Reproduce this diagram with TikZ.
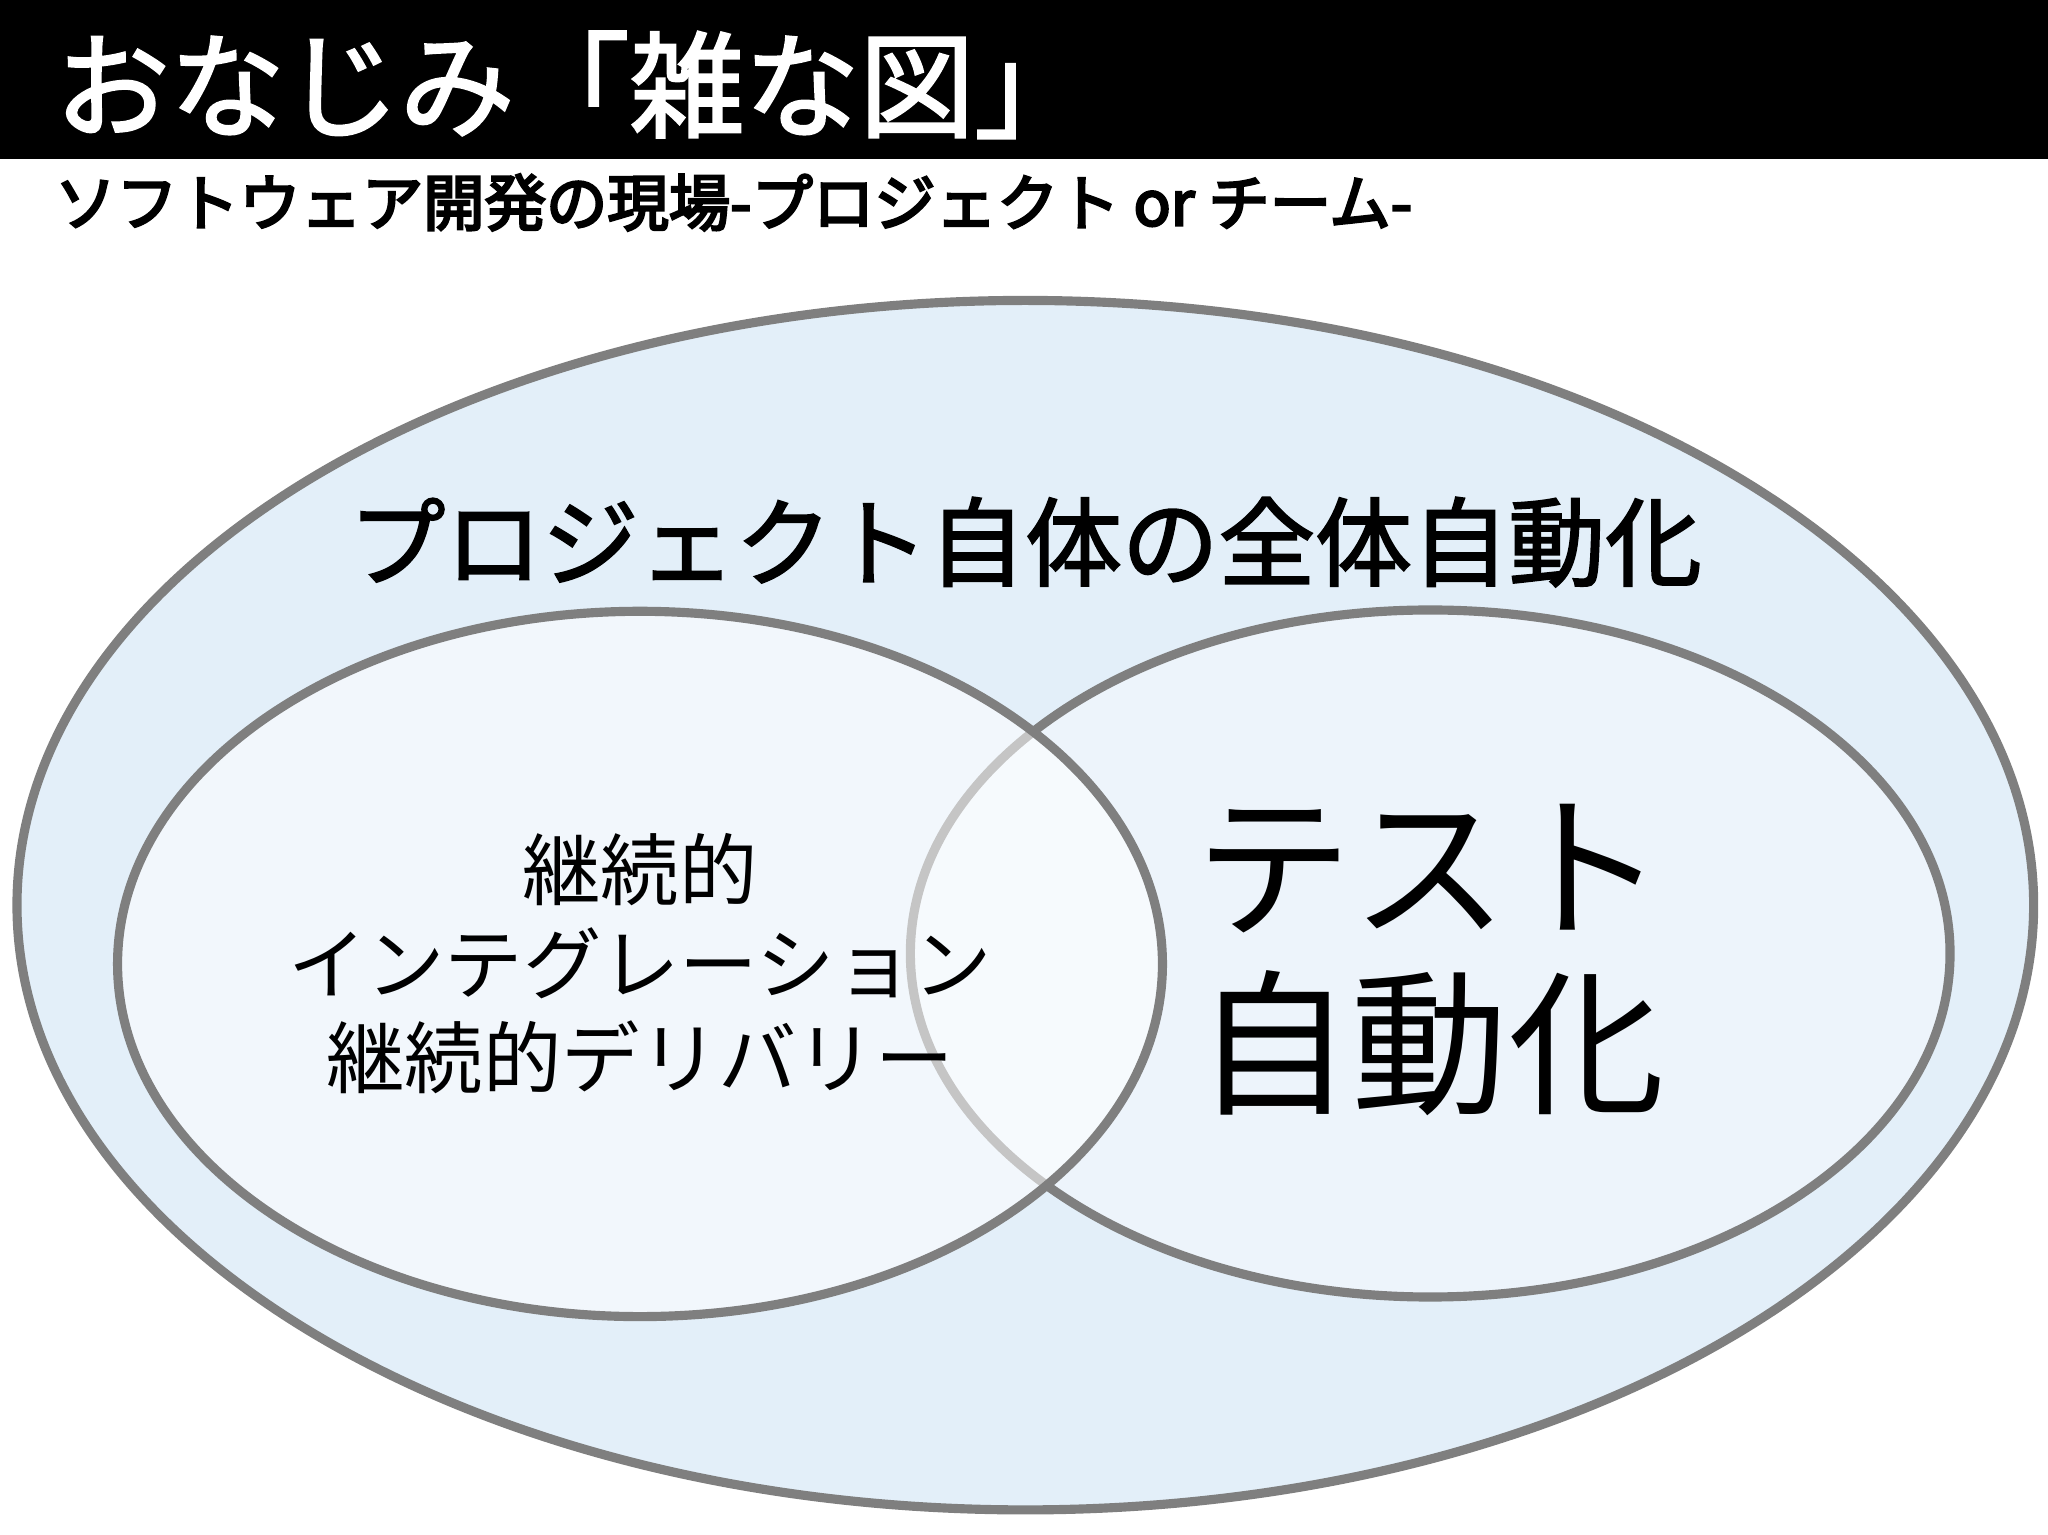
\documentclass[tikz,border=0pt]{standalone}
\usepackage{fontspec}
\newfontfamily\jp{Noto Sans CJK JP}
\newfontfamily\jpb{Noto Sans CJK JP}[FakeBold=2]
\newfontfamily\jpbb{Noto Sans CJK JP}[FakeBold=4]
\definecolor{bigfill}{HTML}{E3EFF9}
\definecolor{smallfill}{HTML}{EDF4FB}
\definecolor{ring}{HTML}{7F7F7F}
\begin{document}
\begin{tikzpicture}[x=0.5pt,y=-0.5pt,
  ringstyle/.style={draw=ring,line width=3.5pt}]
\useasboundingbox (0,0) rectangle (1568,1175);
\fill[white] (0,0) rectangle (1568,122);
\fill[black] (0,0) rectangle (1568,122);
\node[anchor=west,text=white,font=\jpb\fontsize{44pt}{48pt}\selectfont] (title) at (35,65) {おなじみ「雑な図」};
\node[anchor=west,font=\jpbb\fontsize{23.5pt}{26pt}\selectfont] (sub) at (35,155) {ソフトウェア開発の現場-プロジェクト or チーム-};
\draw[ringstyle,fill=bigfill] (785,693) ellipse [x radius=772,y radius=463];
\draw[ringstyle,fill=smallfill] (1095,730) ellipse [x radius=398,y radius=263];
\draw[ringstyle,fill=white,fill opacity=0.55,draw opacity=1] (490,738) ellipse [x radius=400,y radius=270];
\node[font=\jpb\fontsize{37pt}{40pt}\selectfont] (main) at (785,415) {プロジェクト自体の全体自動化};
\node[font=\jp\fontsize{30pt}{36pt}\selectfont,align=center] (ci) at (490,738) {継続的\\インテグレーション\\継続的デリバリー};
\node[font=\jp\fontsize{60pt}{68pt}\selectfont,align=center] (test) at (1095,735) {テスト\\自動化};
\end{tikzpicture}
\end{document}
